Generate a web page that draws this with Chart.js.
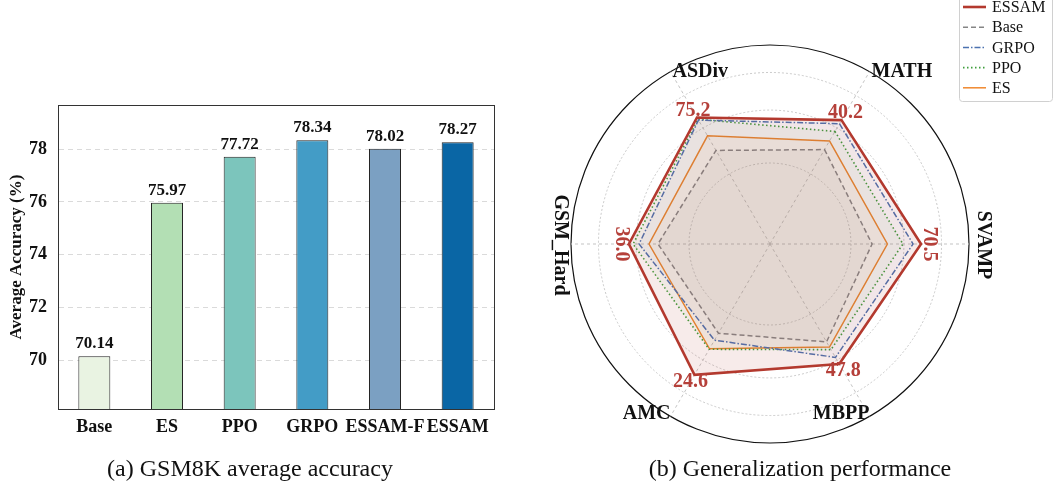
<!DOCTYPE html>
<html><head><meta charset="utf-8">
<script src="https://cdn.jsdelivr.net/npm/chart.js@4.4.1/dist/chart.umd.min.js"></script>
<style>
html,body{margin:0;padding:0;background:#fff;}
#wrap{position:relative;width:1053px;height:490px;overflow:hidden;background:#fff}
.box{position:absolute;top:0}
</style></head><body>
<div id="wrap">
<div class="box" style="left:0;width:540px;height:490px"><canvas id="c1" width="540" height="490"></canvas></div>
<div class="box" style="left:540px;width:513px;height:490px"><canvas id="c2" width="513" height="490"></canvas></div>
</div>
<script>
// ---- (a) bar chart data ----
const barCategories = ['Base', 'ES', 'PPO', 'GRPO', 'ESSAM-F', 'ESSAM'];
const barValues = [70.14, 75.97, 77.72, 78.34, 78.02, 78.27];
const barTicks = [70, 72, 74, 76, 78];
const barColors = ['#e9f3e2', '#b3dfb4', '#7cc5bc', '#439cc6', '#7ba0c2', '#0a66a5'];

// ---- (b) radar data (normalized radius) ----
const radarAxes = ['MATH', 'SVAMP', 'MBPP', 'AMC', 'GSM_Hard', 'ASDiv'];
const essamScores = ['40.2', '70.5', '47.8', '24.6', '36.0', '75.2'];
const radarESSAM = [0.719, 0.759, 0.696, 0.759, 0.709, 0.734];
const radarBase  = [0.548, 0.513, 0.568, 0.518, 0.563, 0.543];
const radarGRPO  = [0.698, 0.719, 0.658, 0.558, 0.658, 0.719];
const radarPPO   = [0.653, 0.668, 0.613, 0.611, 0.688, 0.724];
const radarES    = [0.598, 0.590, 0.598, 0.608, 0.608, 0.628];
const radarGrid  = [0, 0.407, 0.673, 0.862, 1];

const SERIF = "'Liberation Serif', 'Times New Roman', serif";

const barPlugin = {
  id: 'barExtras',
  afterDatasetsDraw(chart) {
    const ctx = chart.ctx;
    const meta = chart.getDatasetMeta(0);
    ctx.save();
    ctx.font = "bold 17px " + SERIF;
    ctx.fillStyle = '#111';
    ctx.textAlign = 'center';
    ctx.textBaseline = 'bottom';
    meta.data.forEach((el, i) => {
      ctx.fillText(barValues[i].toFixed(2), el.x, el.y - 4);
    });
    ctx.restore();
  },
  afterDraw(chart) {
    const ctx = chart.ctx, a = chart.chartArea;
    ctx.save();
    ctx.strokeStyle = '#333';
    ctx.lineWidth = 1;
    ctx.strokeRect(Math.round(a.left) + 0.5, Math.round(a.top) + 0.5, Math.round(a.right - a.left), Math.round(a.bottom - a.top));
    ctx.font = "24px " + SERIF;
    ctx.fillStyle = '#111';
    ctx.textAlign = 'center';
    ctx.textBaseline = 'alphabetic';
    ctx.fillText('(a) GSM8K average accuracy', 250, 476);
    ctx.restore();
  }
};

new Chart(document.getElementById('c1'), {
  type: 'bar',
  data: {
    labels: barCategories,
    datasets: [{
      data: barValues,
      backgroundColor: barColors,
      borderColor: '#222',
      borderWidth: 1,
      borderSkipped: false,
      barPercentage: 0.44,
      categoryPercentage: 1
    }]
  },
  options: {
    responsive: false,
    animation: false,
    devicePixelRatio: 1,
    layout: { padding: { left: 0, right: 46, top: 105, bottom: 41 } },
    plugins: { legend: { display: false }, tooltip: { enabled: false } },
    scales: {
      x: {
        grid: { display: false, drawTicks: false },
        border: { display: true, color: '#333', width: 1 },
        ticks: { font: { family: SERIF, size: 18, weight: 'bold' }, color: '#111', padding: 8, maxRotation: 0, minRotation: 0, autoSkip: false },
        afterFit(s) { s.height = 40; }
      },
      y: {
        min: 68.14, max: 79.68,
        afterBuildTicks(s) { s.ticks = barTicks.map(v => ({ value: v })); },
        grid: { color: '#dadada', lineWidth: 1, drawTicks: false },
        border: { display: true, color: '#333', width: 1, dash: [5, 4] },
        ticks: { font: { family: SERIF, size: 18, weight: 'bold' }, color: '#111', padding: 11 },
        title: { display: true, text: 'Average Accuracy (%)', font: { family: SERIF, size: 17, weight: 'bold' }, color: '#111', padding: { top: 6, bottom: 0 } },
        afterFit(s) { s.width = 58; }
      }
    }
  },
  plugins: [barPlugin]
});

const legendItems = [
  { label: 'ESSAM', color: '#b3392e', width: 2.6, dash: [] },
  { label: 'Base', color: '#858585', width: 1.5, dash: [5, 3] },
  { label: 'GRPO', color: '#4c72b0', width: 1.5, dash: [6, 2, 1.5, 2] },
  { label: 'PPO', color: '#3f9e3c', width: 1.6, dash: [1.5, 2.5] },
  { label: 'ES', color: '#f0882e', width: 1.5, dash: [] }
];

const radarPlugin = {
  id: 'radarExtras',
  afterDraw(chart) {
    const ctx = chart.ctx;
    const s = chart.scales.r;
    ctx.save();
    // axis names
    ctx.font = "bold 20px " + SERIF;
    ctx.fillStyle = '#111';
    ctx.textBaseline = 'middle';
    radarAxes.forEach((name, i) => {
      const p = s.getPointPosition(i, s.drawingArea);
      const ang = s.getIndexAngle(i) * 180 / Math.PI;
      ctx.save();
      if (Math.abs(ang - 90) < 1) {
        ctx.translate(p.x + 14, p.y + 1); ctx.rotate(Math.PI / 2);
        ctx.textAlign = 'center'; ctx.fillText(name, 0, 0);
      } else if (Math.abs(ang - 270) < 1) {
        ctx.translate(p.x - 11, p.y + 1); ctx.rotate(Math.PI / 2);
        ctx.textAlign = 'center'; ctx.fillText(name, 0, 0);
      } else if (p.y < s.yCenter) {
        ctx.textAlign = 'left'; ctx.fillText(name, p.x + 2, p.y);
      } else {
        ctx.textAlign = 'right'; ctx.fillText(name, p.x, p.y - 3);
      }
      ctx.restore();
    });
    // ESSAM value labels
    ctx.font = "bold 20px " + SERIF;
    ctx.fillStyle = '#b5403a';
    ctx.textAlign = 'center';
    ctx.textBaseline = 'middle';
    essamScores.forEach((txt, i) => {
      const d = s.getDistanceFromCenterForValue(radarESSAM[i]) + 8;
      const p = s.getPointPosition(i, d);
      const ang = s.getIndexAngle(i) * 180 / Math.PI;
      ctx.save();
      ctx.translate(p.x, p.y);
      if (Math.abs(ang - 90) < 1 || Math.abs(ang - 270) < 1) ctx.rotate(Math.PI / 2);
      ctx.fillText(txt, 0, 0);
      ctx.restore();
    });
    // legend
    const lx = 959 - 540, ly = -4, lw = 93, lh = 105;
    ctx.fillStyle = 'rgba(255,255,255,0.9)';
    ctx.strokeStyle = '#d0d0d0';
    ctx.lineWidth = 1;
    ctx.beginPath();
    ctx.roundRect(lx + 0.5, ly + 0.5, lw, lh, 3);
    ctx.fill(); ctx.stroke();
    ctx.font = "16px " + SERIF;
    ctx.textAlign = 'left';
    ctx.textBaseline = 'middle';
    legendItems.forEach((it, i) => {
      const y = 7 + i * 20.2;
      ctx.save();
      ctx.strokeStyle = it.color; ctx.lineWidth = it.width; ctx.setLineDash(it.dash);
      ctx.beginPath(); ctx.moveTo(lx + 4, y); ctx.lineTo(lx + 27, y); ctx.stroke();
      ctx.restore();
      ctx.fillStyle = '#111';
      ctx.fillText(it.label, lx + 33, y + 1);
    });
    // caption
    ctx.font = "24px " + SERIF;
    ctx.fillStyle = '#111';
    ctx.textAlign = 'center';
    ctx.textBaseline = 'alphabetic';
    ctx.fillText('(b) Generalization performance', 800 - 540, 476);
    ctx.restore();
  }
};

function ds(label, data, color, bg, width, dash) {
  return { label, data, borderColor: color, backgroundColor: bg, borderWidth: width, borderDash: dash, fill: true, pointRadius: 0, tension: 0 };
}

new Chart(document.getElementById('c2'), {
  type: 'radar',
  data: {
    labels: radarAxes,
    datasets: [
      ds('ESSAM', radarESSAM, '#b3392e', 'rgba(179,57,46,0.10)', 2.6, []),
      ds('Base', radarBase, '#858585', 'rgba(128,128,128,0.06)', 1.5, [5, 3]),
      ds('GRPO', radarGRPO, '#4c72b0', 'rgba(76,114,176,0.04)', 1.5, [6, 2, 1.5, 2]),
      ds('PPO', radarPPO, '#3f9e3c', 'rgba(63,158,60,0.04)', 1.6, [1.5, 2.5]),
      ds('ES', radarES, '#f0882e', 'rgba(240,136,46,0.05)', 1.5, [])
    ]
  },
  options: {
    responsive: false,
    animation: false,
    devicePixelRatio: 1,
    layout: { padding: { left: 31, right: 84, top: 45, bottom: 47 } },
    plugins: { legend: { display: false }, tooltip: { enabled: false } },
    scales: {
      r: {
        min: 0, max: 1,
        startAngle: 30,
        afterBuildTicks(s) { s.ticks = radarGrid.map(v => ({ value: v })); },
        ticks: { display: false },
        pointLabels: { display: false },
        grid: {
          circular: true,
          color: c => (c.tick && c.tick.value === 1) ? '#111' : '#c4c4c4',
          lineWidth: c => (c.tick && c.tick.value === 1) ? 1.2 : 0.9
        },
        border: { dash: c => (c.tick && c.tick.value === 1) ? [] : [2, 2] },
        angleLines: { color: '#bdbdbd', lineWidth: 0.9, borderDash: [3, 3] }
      }
    }
  },
  plugins: [radarPlugin]
});
</script>
</body></html>
